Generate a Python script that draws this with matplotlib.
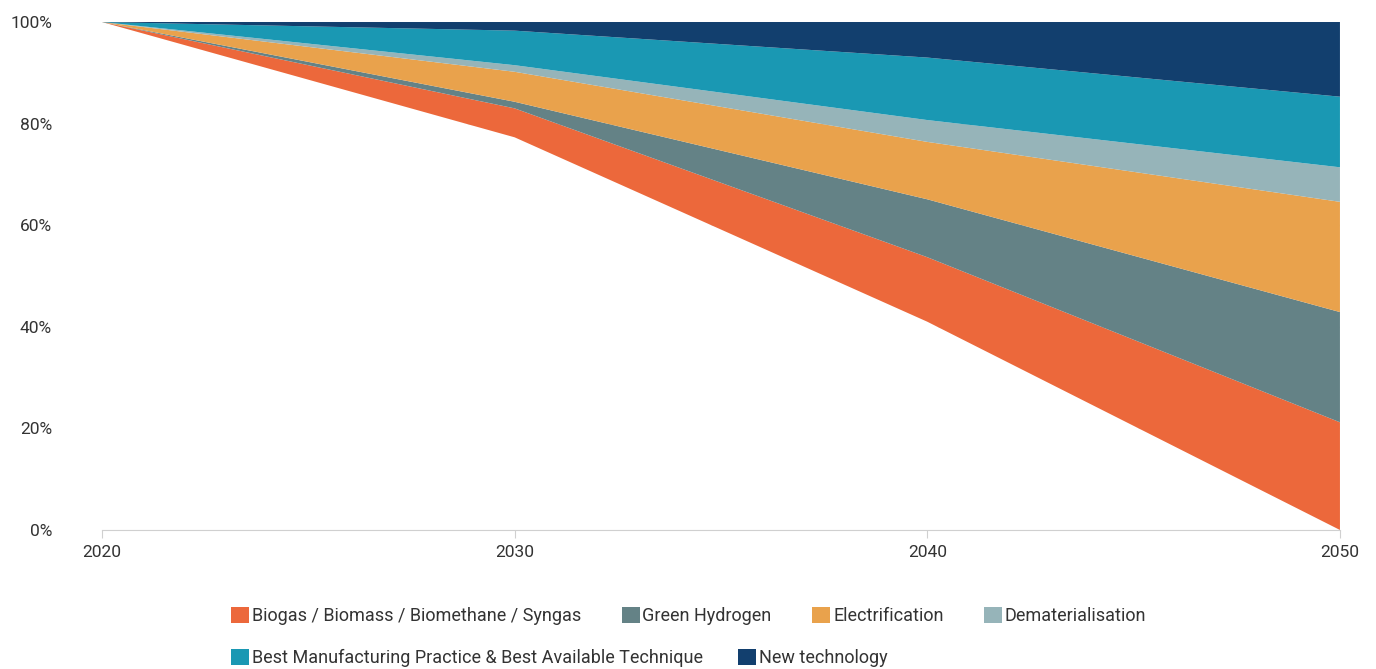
import matplotlib
matplotlib.use("Agg")
import matplotlib.pyplot as plt
import matplotlib.patches as patches
from matplotlib.ticker import FuncFormatter

plt.rcParams['font.family'] = ['Roboto', 'DejaVu Sans']

# Datos (en % del total)
years = [2020, 2030, 2040, 2050]
remaining = [100, 77.3, 41.0, 0.0]
biogas = [0, 5.7, 12.7, 21.2]
green_hydrogen = [0, 1.3, 11.4, 21.7]
electrification = [0, 5.9, 11.3, 21.7]
dematerialisation = [0, 1.3, 4.3, 6.8]
best_practice = [0, 6.8, 12.3, 13.9]
new_technology = [0, 1.7, 7.0, 14.7]

labels = [
    'Biogas / Biomass / Biomethane / Syngas',
    'Green Hydrogen',
    'Electrification',
    'Dematerialisation',
    'Best Manufacturing Practice & Best Available Technique',
    'New technology',
]
colors = ['#EC683B', '#648286', '#E9A24C', '#96B4B9', '#1A98B3', '#123F6E']

fig = plt.figure(figsize=(13.76, 6.69), dpi=100)
ax = fig.add_axes([0.0741, 0.2078, 0.8997, 0.7593])

series = [remaining, biogas, green_hydrogen, electrification,
          dematerialisation, best_practice, new_technology]
ax.stackplot(years, *series, colors=['white'] + colors, linewidth=0)

ax.set_xlim(2020, 2050)
ax.set_ylim(0, 100)
ax.set_xticks([2020, 2030, 2040, 2050])
ax.set_yticks([0, 20, 40, 60, 80, 100])
ax.yaxis.set_major_formatter(FuncFormatter(lambda v, p: f'{int(v)}%'))

ax.grid(axis='y', color='#D9D9D9', linewidth=1)
ax.set_axisbelow(True)
for side in ['top', 'right', 'left']:
    ax.spines[side].set_visible(False)
ax.spines['bottom'].set_color('#D0D0D0')
ax.tick_params(axis='y', length=0, pad=36, labelsize=12.5, labelcolor='#333333')
ax.tick_params(axis='x', length=6, color='#D0D0D0', pad=5, labelsize=12.5, labelcolor='#333333')

handles = [patches.Patch(facecolor=c, edgecolor='none', label=l) for c, l in zip(colors, labels)]

leg_kw = dict(frameon=False, fontsize=13, handlelength=1.0, handleheight=1.0,
              handletextpad=0.15, labelcolor='#333333',
              borderaxespad=0, borderpad=0, loc='upper left')
leg1 = fig.legend(handles=handles[:4], ncol=4, columnspacing=2.25,
                  bbox_to_anchor=(0.1679, 0.0934), **leg_kw)
leg2 = fig.legend(handles=handles[4:], ncol=2, columnspacing=1.95,
                  bbox_to_anchor=(0.1679, 0.0306), **leg_kw)

fig.savefig('out.png', dpi=100)
